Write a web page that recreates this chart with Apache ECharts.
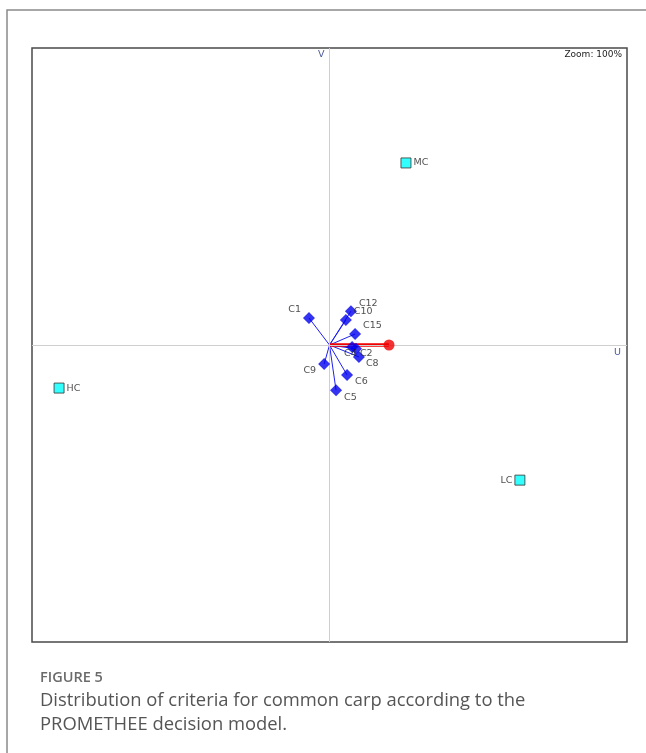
<!DOCTYPE html>
<html>
<head>
<meta charset="utf-8">
<style>
  html, body { margin: 0; padding: 0; background: #fff; }
  #chart { width: 646px; height: 753px; }
</style>
<script src="https://cdn.jsdelivr.net/npm/echarts@6/dist/echarts.min.js"></script>
</head>
<body>
<div id="chart"></div>
<script>
// GAIA plane: alternatives and criteria projected on the (U, V) plane
const alternatives = ['MC', 'HC', 'LC'];
const altU = [0.257, -0.909, 0.640];
const altV = [0.613, -0.145, -0.455];

const criteria = ['C1', 'C12', 'C10', 'C15', 'C4', 'C2', 'C8', 'C9', 'C6', 'C5'];
const critU = [-0.069, 0.072, 0.055, 0.086, 0.076, 0.089, 0.099, -0.018, 0.059, 0.022];
const critV = [0.091, 0.114, 0.084, 0.037, -0.007, -0.013, -0.040, -0.064, -0.101, -0.152];

// decision axis (pi)
const piU = 0.2;
const piV = 0;

const axisRange = [-1, 1];

// label placement for each criterion: [dx, dy, align]
const critLabelPlace = {
  C1: [-8, -8, 'right'], C12: [8, -8, 'left'], C10: [8, -9, 'left'],
  C15: [8, -8, 'left'], C4: [-8, 6, 'left'], C2: [4, 5, 'left'],
  C8: [7, 7, 'left'], C9: [-8, 7, 'right'], C6: [8, 7, 'left'], C5: [8, 7, 'left']
};
const altLabelSide = { MC: 'right', HC: 'right', LC: 'left' };

const smallFont = 'DejaVu Sans';
const chart = echarts.init(document.getElementById('chart'));

const critLines = criteria.map((c, i) => ({ coords: [[0, 0], [critU[i], critV[i]]] }));
const critPoints = criteria.map((c, i) => {
  const p = critLabelPlace[c];
  return {
    name: c,
    value: [critU[i], critV[i]],
    label: { offset: [p[0], p[1]], align: p[2], position: 'inside' }
  };
});
const altPoints = alternatives.map((a, i) => ({
  name: a,
  value: [altU[i], altV[i]],
  label: { position: altLabelSide[a], distance: 2 }
}));

chart.setOption({
  animation: false,
  grid: { left: 32, top: 48, width: 595, height: 594, show: true, borderColor: '#4a4a4a', borderWidth: 1.5, backgroundColor: '#fff' },
  xAxis: { type: 'value', min: axisRange[0], max: axisRange[1], axisLine: { show: false }, axisTick: { show: false }, axisLabel: { show: false }, splitLine: { show: false } },
  yAxis: { type: 'value', min: axisRange[0], max: axisRange[1], axisLine: { show: false }, axisTick: { show: false }, axisLabel: { show: false }, splitLine: { show: false } },
  graphic: [
    { type: 'polyline', shape: { points: [[7, 760], [7, 10], [660, 10]] }, style: { stroke: '#8a8a8a', lineWidth: 1.5, fill: null }, silent: true },
    { type: 'text', left: 318, top: 50, style: { text: 'V', font: '9.5px "DejaVu Sans"', fill: '#4a5a9a' } },
    { type: 'text', left: 614, top: 348, style: { text: 'U', font: '9.5px "DejaVu Sans"', fill: '#4a5a9a' } },
    { type: 'text', right: 24, top: 50, style: { text: 'Zoom: 100%', font: '9px "DejaVu Sans"', fill: '#222' } },
    { type: 'text', left: 40, top: 670, style: { text: 'FIGURE 5', font: '600 14.5px "Open Sans"', fill: '#6b6b6b' } },
    { type: 'text', left: 40, top: 689, style: { text: 'Distribution of criteria for common carp according to the\nPROMETHEE decision model.', font: '18.4px "Open Sans"', lineHeight: 24, fill: '#555' } }
  ],
  series: [
    {
      type: 'line', data: [], silent: true,
      markLine: {
        symbol: 'none', silent: true, label: { show: false },
        lineStyle: { color: '#cfcfcf', width: 1, type: 'solid' },
        data: [{ xAxis: 0 }, { yAxis: 0 }]
      }
    },
    {
      type: 'lines', coordinateSystem: 'cartesian2d', silent: true,
      lineStyle: { color: '#2020f0', width: 1, opacity: 1 },
      data: critLines, z: 3
    },
    {
      type: 'lines', coordinateSystem: 'cartesian2d', silent: true,
      lineStyle: { color: '#f00000', width: 3.5, opacity: 1 },
      data: [{ coords: [[0, 0], [piU, piV]] }], z: 4
    },
    {
      type: 'scatter', symbol: 'circle', symbolSize: 11, z: 5,
      itemStyle: { color: '#f00000' },
      data: [[piU, piV]]
    },
    {
      type: 'scatter', symbol: 'diamond', symbolSize: 12, z: 6,
      itemStyle: { color: '#0000ee' },
      label: { show: true, formatter: '{b}', color: '#222', fontFamily: smallFont, fontSize: 9.5 },
      data: critPoints
    },
    {
      type: 'scatter', symbol: 'rect', symbolSize: 10, z: 6,
      itemStyle: { color: '#00ffff', borderColor: '#333', borderWidth: 1 },
      label: { show: true, formatter: '{b}', color: '#222', fontFamily: smallFont, fontSize: 9.5 },
      data: altPoints
    }
  ]
});
</script>
</body>
</html>
